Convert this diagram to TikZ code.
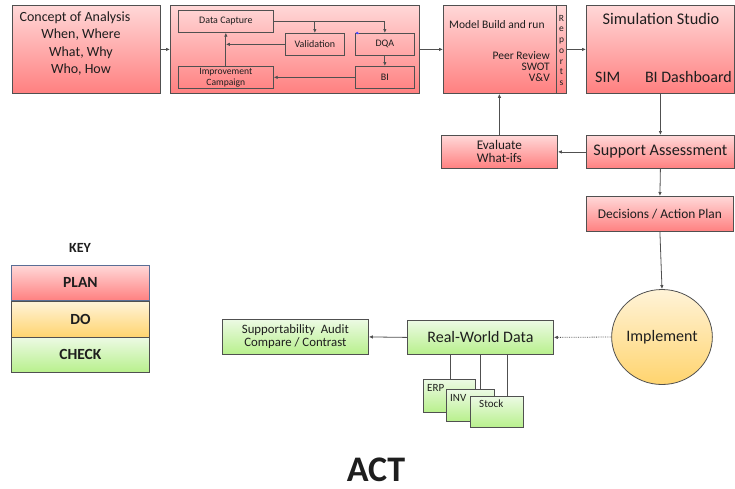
\documentclass[tikz,border=0pt]{standalone}
\usepackage{fontspec}
\setmainfont{Carlito}
\usetikzlibrary{arrows.meta,shapes.misc,shapes.geometric}

\definecolor{planTop}{RGB}{255,216,216}
\definecolor{planBot}{RGB}{255,128,128}
\definecolor{doTop}{RGB}{255,243,216}
\definecolor{doBot}{RGB}{255,212,110}
\definecolor{chkTop}{RGB}{236,250,228}
\definecolor{chkBot}{RGB}{184,240,140}
\definecolor{edge}{RGB}{80,80,80}
\definecolor{ink}{RGB}{30,30,30}

\tikzset{
  fs/.style={font=\fontsize{#1}{#1}\selectfont},
  box/.style={draw=edge, line width=0.8pt, anchor=north west, inner sep=0pt, text=ink},
  planbox/.style={box, top color=planTop, bottom color=planBot},
  dobox/.style={box, top color=doTop, bottom color=doBot},
  chkbox/.style={box, top color=chkTop, bottom color=chkBot},
  inner/.style={draw=edge, line width=0.7pt, anchor=north west, inner sep=0pt, text=ink, fs=10},
  doc/.style={chamfered rectangle, chamfered rectangle corners=north east,
    chamfered rectangle xsep=5pt, chamfered rectangle ysep=5pt,
    draw=edge, line width=0.8pt, top color=chkTop, bottom color=chkBot,
    anchor=north west, inner sep=0pt},
  conn/.style={draw=edge, line width=0.8pt, -{Latex[length=4pt,width=3.5pt]}},
  plain/.style={draw=edge, line width=0.8pt},
  lbl/.style={text=ink, inner sep=0pt},
  keytxt/.style={font=\fontsize{15.5}{17}\selectfont\bfseries},
}

\begin{document}
\begin{tikzpicture}[x=1pt,y=-1pt]
\useasboundingbox (0,0) rectangle (735,488);

% ---------- top row ----------
\node[planbox, minimum width=148pt, minimum height=88pt] (concept) at (12,5) {};
\node[lbl, font=\fontsize{14}{17.3}\selectfont, align=center, anchor=north] (conceptTxt) at (75,11.5)
  {Concept of Analysis\\\hspace*{12pt}When, Where\\\hspace*{12pt}What, Why\\\hspace*{12pt}Who, How};

\node[planbox, minimum width=249pt, minimum height=88pt] (cycle) at (170,5) {};
\node[inner, minimum width=95pt, minimum height=22pt] (dcap) at (178,10) {Data Capture};
\node[inner, minimum width=59pt, minimum height=22pt] (valid) at (285,33) {Validation};
\node[inner, minimum width=59pt, minimum height=22pt] (dqa) at (355,33) {DQA};
\node[inner, minimum width=59pt, minimum height=22pt] (bi) at (355,66) {BI};
\node[inner, minimum width=95pt, minimum height=22pt, align=center,
      font=\fontsize{9.6}{11}\selectfont] (impr) at (178,66) {Improvement\\Campaign};

\coordinate (vbranch) at (valid.north |- dcap.east);
\coordinate (vjoin) at (impr.north |- valid.west);
\draw[plain] (dcap.east) -- (vbranch);
\draw[conn] (vbranch) -| (dqa.north);
\draw[conn] (vbranch) -- (valid.north);
\draw[conn] (valid.west) -- (vjoin);
\draw[conn] (impr.north) -- (dcap.south);
\draw[conn] (dqa.south) -- (bi.north);
\draw[conn] (bi.west) -- (impr.east);
\draw[blue!70, line width=0.6pt, -{Latex[length=3pt,width=3pt]}] ([xshift=4pt]dqa.north west) -- (dqa.north west);

\node[planbox, minimum width=123pt, minimum height=88pt] (model) at (443,5) {};
\coordinate (stripTop) at (556,5);
\coordinate (stripBot) at (556,93);
\draw[plain] (stripTop) -- (stripBot);
\node[lbl, fs=11.5, anchor=west] (modelTxt) at (449,25) {Model Build and run};
\node[lbl, align=right, anchor=north east, font=\fontsize{11.5}{11}\selectfont] (peer) at (550,51.5)
  {Peer Review\\SWOT\\V\&V};
\node[lbl, align=center, anchor=north, font=\fontsize{9.5}{10.7}\selectfont] (reports) at (561.5,15)
  {R\\e\\p\\o\\r\\t\\s};

\node[planbox, minimum width=148pt, minimum height=88pt] (sim) at (586,5) {};
\node[lbl, fs=16.3] (simTitle) at (661,19) {Simulation Studio};
\node[lbl, fs=16, anchor=west] (simSim) at (595,77) {SIM};
\node[lbl, fs=16, anchor=east] (simBI) at (732,77) {BI Dashboard};

\draw[conn] (concept.east) -- (cycle.west);
\draw[conn] (cycle.east) -- (model.west);
\draw[conn] (model.east) -- (sim.west);

% ---------- right column ----------
\node[planbox, minimum width=148pt, minimum height=33pt, fs=16.2] (supp) at (586,135) {Support Assessment};
\node[planbox, minimum width=116pt, minimum height=33pt, align=center,
      font=\fontsize{13.2}{13}\selectfont] (eval) at (441,135) {Evaluate\\What-ifs};
\node[planbox, minimum width=147pt, minimum height=35pt, fs=13.4] (dec) at (586,196) {Decisions / Action Plan};
\node[draw=edge, line width=0.8pt, ellipse, top color=doTop, bottom color=doBot,
      minimum width=96pt, minimum height=95pt, inner sep=0pt, text=ink, fs=16] (impl) at (662,337) {Implement};

\draw[conn] (sim.south) -- (supp.north);
\draw[conn] (supp.west) -- (eval.east);
\coordinate (evalUp) at (eval.north |- model.south);
\draw[conn] (eval.north) -- (evalUp);
\draw[conn] (supp.south) -- (dec.north);
\draw[conn] (dec.south) -- (impl.north);

% ---------- check row ----------
\node[chkbox, minimum width=146pt, minimum height=34pt, fs=16] (rwd) at (407,320) {Real-World Data};
\node[chkbox, minimum width=146pt, minimum height=35pt, align=center,
      font=\fontsize{12.8}{12.8}\selectfont] (audit) at (222,319) {Supportability\ \ Audit\\Compare / Contrast};

\draw[edge, line width=0.8pt, densely dotted, -{Latex[length=4pt,width=3.5pt]}] (impl.west) -- (rwd.east);
\draw[conn] (rwd.west) -- (audit.east);

\coordinate (erpTop) at (450,379);
\coordinate (invTop) at (480,389);
\coordinate (stkTop) at (507,396);
\draw[plain] (erpTop |- rwd.south) -- (erpTop);
\draw[plain] (invTop |- rwd.south) -- (invTop);
\draw[plain] (stkTop |- rwd.south) -- (stkTop);

\node[doc, minimum width=52pt, minimum height=33pt] (erp) at (423,379) {};
\node[lbl, fs=11, anchor=north west] (erpTxt) at (427,384) {ERP};
\node[doc, minimum width=48pt, minimum height=32pt] (inv) at (446,389) {};
\node[lbl, fs=11, anchor=north west] (invTxt) at (450,394) {INV};
\node[doc, minimum width=53pt, minimum height=31pt] (stock) at (470,396) {};
\node[lbl, fs=11, anchor=north west] (stockTxt) at (479,400) {Stock};

% ---------- key ----------
\node[lbl, font=\fontsize{14}{16}\selectfont\bfseries] (keyTitle) at (80,248) {KEY};
\node[box, draw={rgb,255:red,90;green,110;blue,150}, top color=planTop, bottom color=planBot,
      minimum width=138pt, minimum height=35pt, keytxt] (kplan) at (11,265) {PLAN};
\node[dobox, minimum width=138pt, minimum height=36pt, keytxt] (kdo) at (11,301) {DO};
\node[chkbox, minimum width=138pt, minimum height=35pt, keytxt] (kcheck) at (11,337) {CHECK};

% ---------- title ----------
\node[lbl, font=\fontsize{36}{40}\selectfont\bfseries, anchor=base] (act) at (376,481) {ACT};
\end{tikzpicture}
\end{document}
